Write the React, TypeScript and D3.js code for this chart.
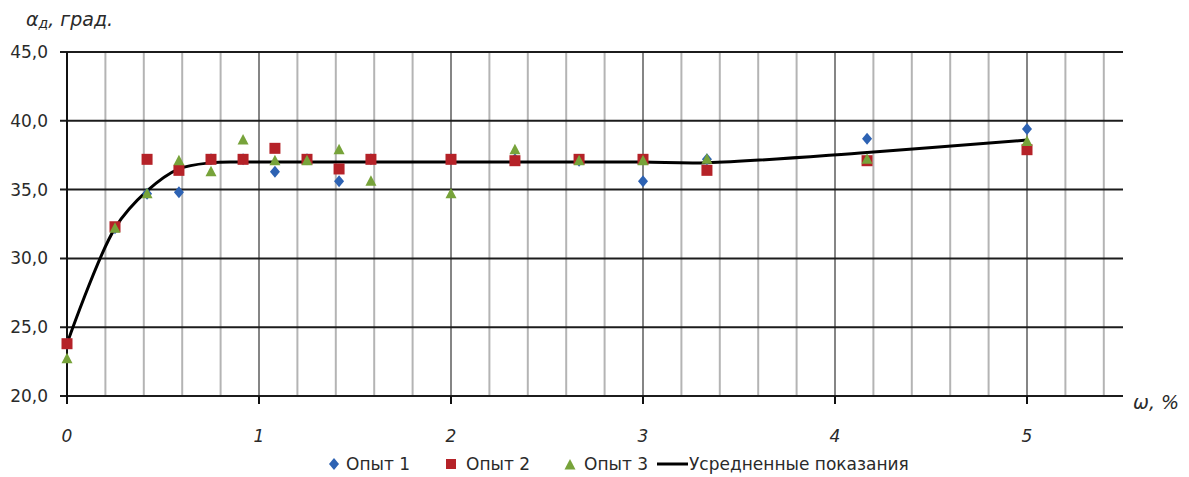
import React from 'react';
import * as d3 from 'd3';

// moisture, %
const moisture = [0, 0.25, 0.417, 0.583, 0.75, 0.917, 1.083, 1.25, 1.417, 1.583, 2, 2.333, 2.667, 3, 3.333, 4.167, 5];
// angle, degrees
const run1 = [23.8, 32.2, 34.7, 34.8, 37.2, 37.2, 36.3, 37.2, 35.6, 37.2, 37.2, 37.2, 37.1, 35.6, 37.2, 38.7, 39.4];
const run2 = [23.8, 32.3, 37.2, 36.4, 37.2, 37.2, 38.0, 37.2, 36.5, 37.2, 37.2, 37.1, 37.2, 37.2, 36.4, 37.1, 37.9];
const run3 = [22.7, 32.2, 34.7, 37.1, 36.3, 38.6, 37.1, 37.1, 37.9, 35.6, 34.7, 37.9, 37.1, 37.1, 37.2, 37.2, 38.5];
const averaged = [23.8, 32.2, 34.9, 36.5, 36.95, 37.0, 37.0, 37.0, 37.0, 37.0, 37.0, 37.0, 37.0, 37.0, 36.95, 37.7, 38.6];

const yTicks = [20, 25, 30, 35, 40, 45];
const xTicks = [0, 1, 2, 3, 4, 5];
const xMinor = [0.2, 0.4, 0.6, 0.8, 1.2, 1.4, 1.6, 1.8, 2.2, 2.4, 2.6, 2.8, 3.2, 3.4, 3.6, 3.8, 4.2, 4.4, 4.6, 4.8, 5.2, 5.4];
const legendLabels = ['Опыт 1', 'Опыт 2', 'Опыт 3', 'Усредненные показания'];

const W = 1189;
const H = 477;
const BLUE = '#2d62b3';
const RED = '#b52228';
const GREEN = '#77a33a';
const FONT = '"DejaVu Sans", sans-serif';

const x = d3.scaleLinear().domain([0, 5.5]).range([67, 1123]);
const y = d3.scaleLinear().domain([20, 45]).range([396, 52]);

const diamond = (cx: number, cy: number) => `M${cx},${cy - 6}L${cx + 5},${cy}L${cx},${cy + 6}L${cx - 5},${cy}Z`;
const triangle = (cx: number, cy: number) => `M${cx},${cy - 6}L${cx + 5.5},${cy + 4.5}L${cx - 5.5},${cy + 4.5}Z`;

export default function App() {
  const line = d3.line<number>()
    .x((_, i) => x(moisture[i]))
    .y(d => y(d))
    .curve(d3.curveCatmullRom.alpha(0.5));

  return (
    <svg width={W} height={H} style={{ position: 'absolute', left: 0, top: 0, background: '#fff' }}>
      {/* vertical grid */}
      {xMinor.map(v => (
        <line key={'m' + v} x1={x(v)} x2={x(v)} y1={y(45)} y2={y(20)} stroke="#b4b4b4" strokeWidth={2} />
      ))}
      {xTicks.slice(1).map(v => (
        <line key={'M' + v} x1={x(v)} x2={x(v)} y1={y(45)} y2={y(20)} stroke="#858585" strokeWidth={2} />
      ))}
      {/* horizontal grid */}
      {yTicks.map(v => (
        <line key={'h' + v} x1={60} x2={1123} y1={y(v)} y2={y(v)} stroke="#1c1c1c" strokeWidth={2} />
      ))}
      {/* axes */}
      <line x1={x(0)} x2={x(0)} y1={y(45)} y2={y(20) + 8} stroke="#111" strokeWidth={2} />
      {xTicks.slice(1).map(v => (
        <line key={'t' + v} x1={x(v)} x2={x(v)} y1={y(20)} y2={y(20) + 8} stroke="#111" strokeWidth={2} />
      ))}

      {yTicks.map(v => (
        <text key={'yl' + v} x={48} y={y(v)} dy="0.35em" textAnchor="end" fontFamily={FONT} fontSize={17} fill="#2a2a2a">
          {v.toFixed(1).replace('.', ',')}
        </text>
      ))}
      {xTicks.map(v => (
        <text key={'xl' + v} x={x(v)} y={442} textAnchor="middle" fontFamily={FONT} fontSize={17} fontStyle="italic" fill="#2a2a2a">
          {v}
        </text>
      ))}

      <text x={26} y={26} fontFamily={FONT} fontSize={19} fontStyle="italic" fill="#2a2a2a">
        α<tspan fontSize={14} dy={2}>д</tspan><tspan dy={-2}>, град.</tspan>
      </text>
      <text x={1133} y={409} fontFamily={FONT} fontSize={19} fontStyle="italic" fill="#2a2a2a">ω, %</text>

      {/* averaged line */}
      <path d={line(averaged) || ''} fill="none" stroke="#000" strokeWidth={3} />

      {run1.map((v, i) => (
        <path key={'a' + i} d={diamond(x(moisture[i]), y(v))} fill={BLUE} />
      ))}
      {run2.map((v, i) => (
        <rect key={'b' + i} x={x(moisture[i]) - 5.5} y={y(v) - 5.5} width={11} height={11} fill={RED} />
      ))}
      {run3.map((v, i) => (
        <path key={'c' + i} d={triangle(x(moisture[i]), y(v))} fill={GREEN} />
      ))}

      {/* legend */}
      <g fontFamily={FONT} fontSize={17} fill="#2a2a2a">
        <path d={diamond(334, 464)} fill={BLUE} />
        <text x={346} y={464} dy="0.35em">{legendLabels[0]}</text>
        <rect x={446} y={459} width={10} height={10} fill={RED} />
        <text x={466} y={464} dy="0.35em">{legendLabels[1]}</text>
        <path d={triangle(570, 465)} fill={GREEN} />
        <text x={584} y={464} dy="0.35em">{legendLabels[2]}</text>
        <line x1={657} x2={688} y1={464} y2={464} stroke="#000" strokeWidth={3} />
        <text x={689} y={464} dy="0.35em">{legendLabels[3]}</text>
      </g>
    </svg>
  );
}
